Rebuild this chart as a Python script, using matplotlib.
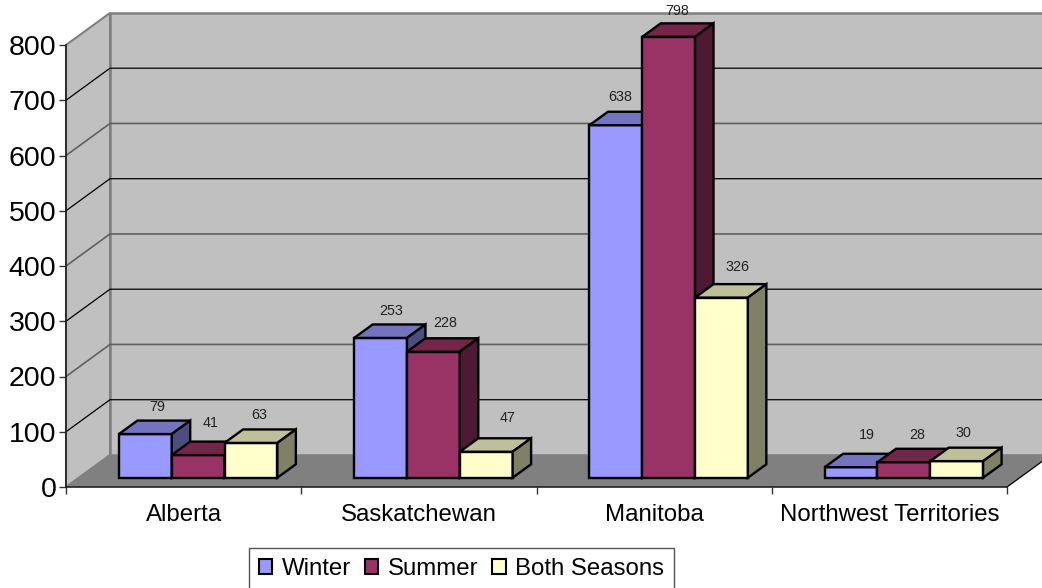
#!/usr/bin/env python3
"""Excel style 3D clustered columns, drawn as polygons on a flat axes."""
import matplotlib
matplotlib.use("Agg")
import matplotlib.pyplot as plt
from matplotlib.patches import Patch

plt.rcParams["font.family"] = ["Liberation Sans", "DejaVu Sans"]

provinces = ["Alberta", "Saskatchewan", "Manitoba", "Northwest Territories"]
winter = [79, 253, 638, 19]
summer = [41, 228, 798, 28]
both_seasons = [63, 47, 326, 30]
series_names = ["Winter", "Summer", "Both Seasons"]
y_ticks = [0, 100, 200, 300, 400, 500, 600, 700, 800]

# front, top, side colours per series
colors = {
    "Winter": ("#9999FF", "#7373BF", "#4D4D80"),
    "Summer": ("#993366", "#732649", "#4D1933"),
    "Both Seasons": ("#FFFFCC", "#BFBF99", "#808066"),
}
# label nudges in pixels from the bar top centre, per series then province
label_nudge = {
    "Winter": [(12, 27), (11, 27), (4, 28), (16, 32)],
    "Summer": [(12, 32), (12, 29), (8, 26), (13, 27)],
    "Both Seasons": [(8, 28), (21, 34), (16, 31), (7, 28)],
}

DX, DY = 0.187, 58.0   # depth of the box in data units
BAR_W = 0.2245
GROUP_START = 0.225
D0, D1 = 0.29, 0.71    # part of the depth the bars sit in
W, H = 1042, 588


def box(ax, x, val, cols):
    x0, x1 = x, x + BAR_W
    y0 = D0 * DY
    y1 = y0 + val
    ddx, ddy = (D1 - D0) * DX, (D1 - D0) * DY
    kw = dict(edgecolor="black", linewidth=1.7, joinstyle="miter", clip_on=False, zorder=5)
    ax.fill([x0, x1, x1, x0], [y0, y0, y1, y1], facecolor=cols[0], **kw)
    ax.fill([x0, x1, x1 + ddx, x0 + ddx], [y1, y1, y1 + ddy, y1 + ddy], facecolor=cols[1], **kw)
    ax.fill([x1, x1 + ddx, x1 + ddx, x1], [y0, y0 + ddy, y1 + ddy, y1], facecolor=cols[2], **kw)


def main():
    fig = plt.figure(figsize=(W / 100, H / 100), dpi=100)
    ax = fig.add_axes([66 / W, 1 - 487 / H, 941 / W, 442 / H])
    ax.set_xlim(0, 4)
    ax.set_ylim(0, 800)
    ax.patch.set_visible(False)

    # walls and floor
    top = 800 + DY
    for art in ax.fill([0, DX, DX, 0], [0, DY, top, 800], facecolor="#C0C0C0",
                       edgecolor="#808080", linewidth=1.5):
        art.set_clip_on(False)
    for art in ax.fill([DX, 4 + DX, 4 + DX, DX], [DY, DY, top, top], facecolor="#C0C0C0",
                       edgecolor="#808080", linewidth=1.8):
        art.set_clip_on(False)
    for art in ax.fill([0, 4, 4 + DX, DX], [0, 0, DY, DY], facecolor="#808080",
                       edgecolor="none"):
        art.set_clip_on(False)
    ax.plot([4, 4 + DX], [0, DY], color="black", lw=0.9, clip_on=False, zorder=2)

    for i, v in enumerate(y_ticks[1:-1], start=1):
        c, lw = ("black", 0.9) if i % 2 else ("#606060", 1.2)
        ax.plot([0, DX, 4 + DX], [v, v + DY, v + DY], color=c, lw=lw, clip_on=False, zorder=2)

    all_vals = [winter, summer, both_seasons]
    for i in range(len(provinces)):
        for j, name in enumerate(series_names):
            x = i + GROUP_START + j * BAR_W
            val = all_vals[j][i]
            box(ax, x, val, colors[name])
            nx, ny = label_nudge[name][i]
            ax.annotate(str(val), (x + BAR_W / 2, D0 * DY + val), xytext=(nx * 0.72, ny * 0.72),
                        textcoords="offset points", ha="center", va="center",
                        fontsize=10.3, color="#222222", zorder=6, annotation_clip=False)

    ax.set_yticks(y_ticks)
    ax.tick_params(axis="y", labelsize=20.5, length=5, width=1, pad=2, color="#333333")
    ax.set_xticks(range(5))
    ax.set_xticklabels([])
    ax.tick_params(axis="x", which="major", length=5, width=1, color="#333333")
    ax.set_xticks([i + 0.5 for i in range(4)], minor=True)
    ax.set_xticklabels(provinces, minor=True)
    ax.tick_params(axis="x", which="minor", length=0, labelsize=17.3, pad=12)

    for side in ("top", "right"):
        ax.spines[side].set_visible(False)
    for side in ("left", "bottom"):
        ax.spines[side].set_color("#222222")
        ax.spines[side].set_linewidth(1.2)
        ax.spines[side].set_zorder(3)

    handles = [Patch(facecolor=colors[n][0], edgecolor="black", linewidth=1.5) for n in series_names]
    leg = fig.legend(handles, series_names, ncol=3, loc="upper left",
                     bbox_to_anchor=(249 / W, 1 - 548 / H), bbox_transform=fig.transFigure,
                     fontsize=17.3, frameon=True, fancybox=False, borderaxespad=0,
                     handlelength=0.55, handleheight=0.55, handletextpad=0.38,
                     columnspacing=0.6, borderpad=0.42)
    leg.get_frame().set_edgecolor("#555555")
    leg.get_frame().set_linewidth(1.0)
    leg.get_frame().set_alpha(1)

    fig.savefig("out.png", dpi=100)
    print("wrote out.png")


if __name__ == "__main__":
    main()
